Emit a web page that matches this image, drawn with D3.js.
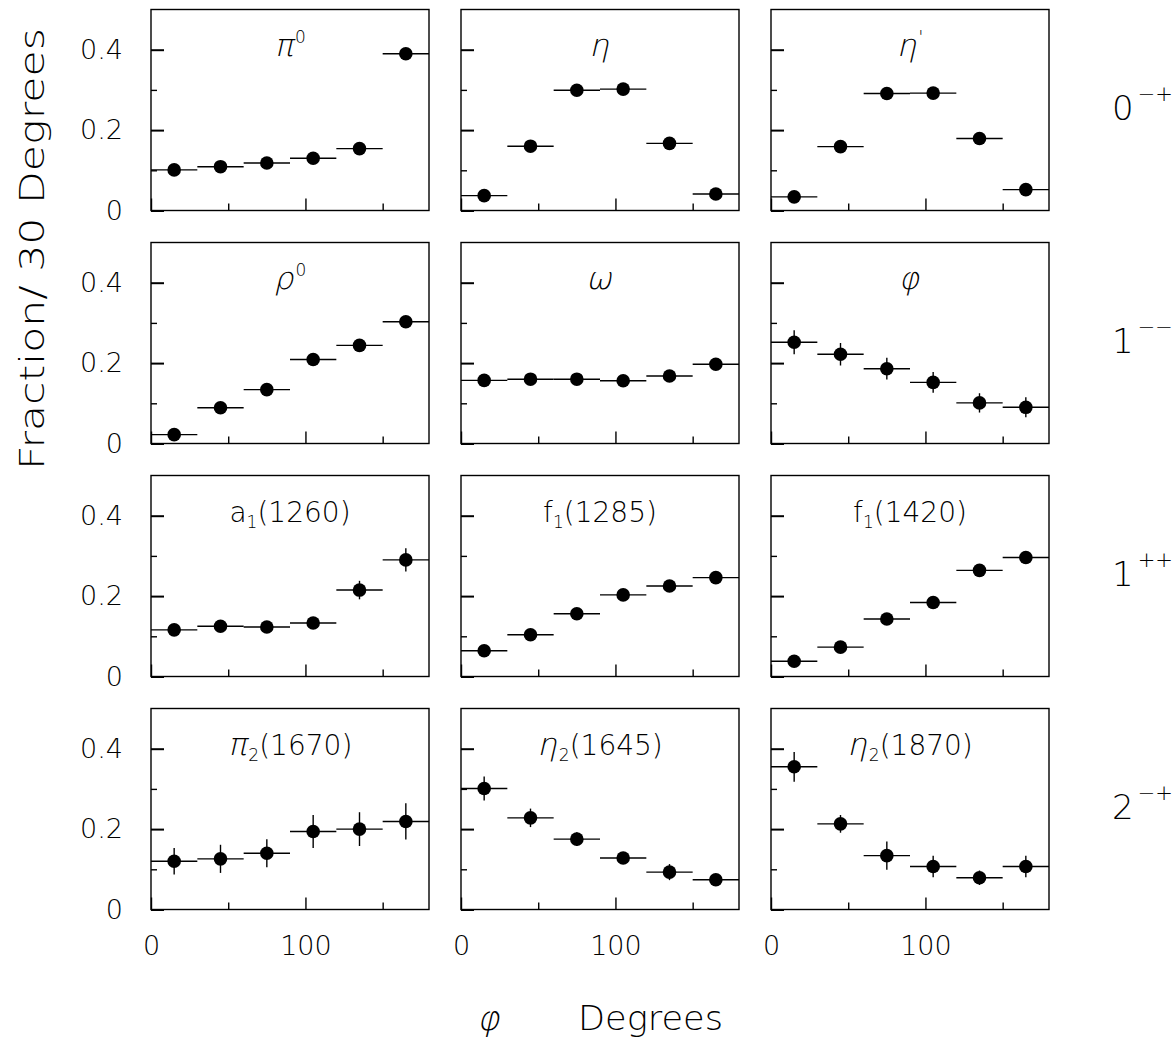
<!DOCTYPE html>
<html>
<head>
<meta charset="utf-8">
<script src="https://cdn.jsdelivr.net/npm/d3@7"></script>
<style>
    html, body { margin: 0; padding: 0; background: #fff; }
    svg { display: block; font-family: "DejaVu Sans", sans-serif; font-weight: 200; fill: #000; }
</style>
</head>
<body>
<div id="chart"></div>
<script>
// phi bins (degrees), 30 degrees wide
const phiBinCenters = [15, 45, 75, 105, 135, 165];
const phiBinWidth = 30;

// fraction per bin and its error, one pair per meson
const pi0Frac = [0.101, 0.109, 0.118, 0.130, 0.154, 0.390];
const pi0Err = [0.005, 0.005, 0.005, 0.005, 0.006, 0.008];
const etaFrac = [0.037, 0.160, 0.299, 0.302, 0.167, 0.041];
const etaErr = [0.004, 0.006, 0.007, 0.007, 0.006, 0.004];
const etaPrimeFrac = [0.034, 0.159, 0.291, 0.292, 0.179, 0.052];
const etaPrimeErr = [0.005, 0.007, 0.009, 0.009, 0.007, 0.005];
const rho0Frac = [0.022, 0.089, 0.134, 0.209, 0.244, 0.303];
const rho0Err = [0.005, 0.006, 0.006, 0.007, 0.007, 0.008];
const omegaFrac = [0.157, 0.160, 0.160, 0.156, 0.168, 0.197];
const omegaErr = [0.006, 0.006, 0.006, 0.006, 0.006, 0.007];
const phiMesonFrac = [0.252, 0.222, 0.186, 0.152, 0.101, 0.090];
const phiMesonErr = [0.030, 0.028, 0.027, 0.026, 0.024, 0.025];
const a1Frac = [0.116, 0.125, 0.123, 0.133, 0.215, 0.290];
const a1Err = [0.012, 0.013, 0.013, 0.014, 0.023, 0.029];
const f1_1285Frac = [0.064, 0.104, 0.156, 0.203, 0.225, 0.246];
const f1_1285Err = [0.007, 0.008, 0.009, 0.009, 0.009, 0.009];
const f1_1420Frac = [0.038, 0.073, 0.143, 0.184, 0.264, 0.296];
const f1_1420Err = [0.006, 0.007, 0.008, 0.009, 0.009, 0.009];
const pi2Frac = [0.120, 0.126, 0.140, 0.194, 0.200, 0.219];
const pi2Err = [0.033, 0.035, 0.035, 0.041, 0.042, 0.045];
const eta2_1645Frac = [0.301, 0.228, 0.175, 0.128, 0.093, 0.074];
const eta2_1645Err = [0.030, 0.023, 0.017, 0.011, 0.020, 0.010];
const eta2_1870Frac = [0.355, 0.213, 0.134, 0.107, 0.079, 0.107];
const eta2_1870Err = [0.037, 0.022, 0.035, 0.027, 0.018, 0.027];

// panel labels: symbol, subscript, superscript, suffix
const panelSymbols = ["π", "η", "η", "ρ", "ω", "φ", "a", "f", "f", "π", "η", "η"];
const panelSubs = ["", "", "", "", "", "", "1", "1", "1", "2", "2", "2"];
const panelSups = ["0", "", "'", "0", "", "", "", "", "", "", "", ""];
const panelSuffixes = ["", "", "", "", "", "", "(1260)", "(1285)", "(1420)", "(1670)", "(1645)", "(1870)"];

// J^PC per row
const rowSpins = ["0", "1", "1", "2"];
const rowParities = ["−+", "−−", "++", "−+"];

const yMajorTicks = [0, 0.2, 0.4];
const yMinorTicks = [0.1, 0.3];
const xMajorTicks = [0, 100];
const xMinorTicks = [50, 150];

const panelFractions = [pi0Frac, etaFrac, etaPrimeFrac, rho0Frac, omegaFrac, phiMesonFrac,
    a1Frac, f1_1285Frac, f1_1420Frac, pi2Frac, eta2_1645Frac, eta2_1870Frac];
const panelErrors = [pi0Err, etaErr, etaPrimeErr, rho0Err, omegaErr, phiMesonErr,
    a1Err, f1_1285Err, f1_1420Err, pi2Err, eta2_1645Err, eta2_1870Err];

const chartRenderer = (() => {
    const W = 1174, H = 1044;
    const grid = { left: 151, top: 9.5, colStep: 310, rowStep: 233, panelW: 278, panelH: 201 };

    const x = d3.scaleLinear().domain([0, 180]).range([0, grid.panelW]);
    const y = d3.scaleLinear().domain([0, 0.5]).range([grid.panelH, 0]);
    const fmtY = d => d === 0 ? "0" : d3.format(".1f")(d);
    const isLatin = s => /[a-z]/.test(s);

    // lays out text pieces one after another, greek ones slanted by hand (thin face has no italic)
    function _richLabel(parent, pieces, cx, baseline) {
        const g = parent.append("g");
        let cursor = 0;
        pieces.forEach(p => {
            const t = g.append("text")
                .attr("transform", `translate(${cursor},${p.dy || 0})` + (p.slant ? " skewX(-13)" : ""))
                .style("font-size", `${p.size}px`)
                .text(p.text);
            cursor += t.node().getComputedTextLength() + (p.gap || 0);
        });
        g.attr("transform", `translate(${cx - cursor / 2},${baseline})`);
        return g;
    }

    function _drawPanel(svg, idx) {
        const row = Math.floor(idx / 3), col = idx % 3;
        const g = svg.append("g")
            .attr("transform", `translate(${grid.left + col * grid.colStep},${grid.top + row * grid.rowStep})`);

        // frame
        g.append("rect").attr("width", grid.panelW).attr("height", grid.panelH)
            .attr("fill", "none").attr("stroke", "#000").attr("stroke-width", 1.4);

        // inward ticks, labels only on the outer panels
        const yMajor = g.append("g").call(d3.axisLeft(y).tickValues(yMajorTicks).tickSize(-13).tickPadding(28).tickFormat(col === 0 ? fmtY : ""));
        const yMinor = g.append("g").call(d3.axisLeft(y).tickValues(yMinorTicks).tickSize(-6).tickFormat(""));
        const xMajor = g.append("g").attr("transform", `translate(0,${grid.panelH})`)
            .call(d3.axisBottom(x).tickValues(xMajorTicks).tickSize(-12).tickPadding(26).tickFormat(row === 3 ? d3.format("d") : ""));
        const xMinor = g.append("g").attr("transform", `translate(0,${grid.panelH})`)
            .call(d3.axisBottom(x).tickValues(xMinorTicks).tickSize(-7).tickFormat(""));
        [yMajor, yMinor, xMajor, xMinor].forEach(a => {
            a.select(".domain").remove();
            a.selectAll("line").attr("stroke", "#000").attr("stroke-width", 1.4);
            a.selectAll("text").attr("fill", "#000").style("font-size", "27px").style("font-family", "DejaVu Sans").style("font-weight", 200);
        });
        yMajor.selectAll("line").attr("stroke-width", 2);

        // title
        const sym = panelSymbols[idx];
        const pieces = [{ text: sym, size: isLatin(sym) ? 28 : 31, slant: !isLatin(sym), gap: isLatin(sym) ? 0 : 2 }];
        if (panelSubs[idx]) pieces.push({ text: panelSubs[idx], size: 17, dy: 6 });
        if (panelSups[idx]) pieces.push({ text: panelSups[idx], size: 17, dy: -13 });
        if (panelSuffixes[idx]) pieces.push({ text: panelSuffixes[idx], size: 28 });
        _richLabel(g, pieces, grid.panelW / 2, 46);

        // data: horizontal bin bars, vertical error bars, dots
        const pts = phiBinCenters.map((c, i) => ({ c, v: panelFractions[idx][i], e: panelErrors[idx][i] }));
        g.selectAll(".hbar").data(pts).enter().append("line")
            .attr("x1", d => x(d.c - phiBinWidth / 2)).attr("x2", d => x(d.c + phiBinWidth / 2))
            .attr("y1", d => y(d.v)).attr("y2", d => y(d.v))
            .attr("stroke", "#000").attr("stroke-width", 1.4);
        g.selectAll(".vbar").data(pts).enter().append("line")
            .attr("x1", d => x(d.c)).attr("x2", d => x(d.c))
            .attr("y1", d => y(d.v - d.e)).attr("y2", d => y(d.v + d.e))
            .attr("stroke", "#000").attr("stroke-width", 1.4);
        g.selectAll(".dot").data(pts).enter().append("circle")
            .attr("cx", d => x(d.c)).attr("cy", d => y(d.v)).attr("r", 6.8)
            .attr("fill", "#000");
    }

    function render(targetId) {
        const svg = d3.select(`#${targetId}`).append("svg")
            .attr("width", W).attr("height", H).attr("viewBox", `0 0 ${W} ${H}`);
        svg.append("rect").attr("width", W).attr("height", H).attr("fill", "#fff");

        d3.range(12).forEach(i => _drawPanel(svg, i));

        // row J^PC labels
        rowSpins.forEach((s, r) => {
            const t = svg.append("text").attr("x", 1112).attr("y", grid.top + r * grid.rowStep + 110)
                .style("font-size", "34px");
            t.append("tspan").text(s);
            t.append("tspan").attr("dy", -19).attr("dx", 4).style("font-size", "21px").text(rowParities[r]);
        });

        // axis titles
        svg.append("text")
            .attr("transform", "translate(44,249) rotate(-90)")
            .attr("text-anchor", "middle")
            .attr("textLength", 442).attr("lengthAdjust", "spacingAndGlyphs")
            .style("font-size", "34px")
            .text("Fraction/ 30 Degrees");
        svg.append("text").attr("transform", "translate(477,1030) skewX(-13)")
            .style("font-size", "34px").text("φ");
        svg.append("text").attr("x", 578).attr("y", 1030)
            .attr("textLength", 145).attr("lengthAdjust", "spacingAndGlyphs")
            .style("font-size", "34px").text("Degrees");
    }

    return Object.freeze({ render });
})();

chartRenderer.render("chart");
</script>
</body>
</html>
